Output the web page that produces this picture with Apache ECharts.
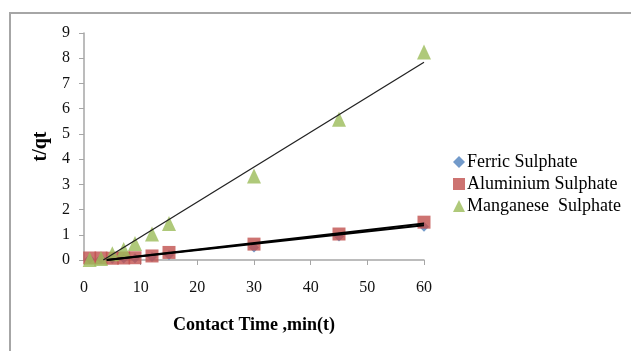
<!DOCTYPE html>
<html>
<head>
<meta charset="utf-8">
<script src="https://cdn.jsdelivr.net/npm/echarts@6/dist/echarts.min.js"></script>
<style>html,body{margin:0;padding:0;background:#fff;}#c{width:631px;height:351px;}</style>
</head>
<body>
<div id="c"></div>
<script>
const contactTime = [1, 3, 5, 7, 9, 12, 15, 30, 45, 60];
const ferricSulphate = [0.04, 0.05, 0.05, 0.06, 0.07, 0.12, 0.2, 0.5, 0.93, 1.32];
const aluminiumSulphate = [0.08, 0.08, 0.07, 0.08, 0.09, 0.16, 0.3, 0.63, 1.03, 1.5];
const manganeseSulphate = [0.02, 0.06, 0.25, 0.42, 0.65, 1.03, 1.45, 3.33, 5.58, 8.25];
const ferricTrendT = [4, 60], ferricTrendY = [0, 1.38];
const aluminiumTrendT = [4, 60], aluminiumTrendY = [0, 1.45];
const manganeseTrendT = [3.4, 60], manganeseTrendY = [0, 7.84];
const seriesNames = ['Ferric Sulphate', 'Aluminium Sulphate', 'Manganese  Sulphate'];
const xTitle = 'Contact Time ,min(t)';
const yTitle = 't/qt';

const zip = (a, b) => a.map((v, i) => [v, b[i]]);
const FONT = 'Liberation Serif';
const chart = echarts.init(document.getElementById('c'), null, {renderer: 'canvas'});
chart.setOption({
  animation: false,
  backgroundColor: '#fff',
  graphic: [{
    type: 'polyline',
    shape: {points: [[10, 351], [10, 13], [631, 13]]},
    style: {stroke: '#a6a6a6', lineWidth: 2, fill: null},
    silent: true
  }],
  grid: {left: 84, right: 207, top: 33, bottom: 91},
  legend: {
    orient: 'vertical',
    left: 448, top: 148,
    itemWidth: 12, itemHeight: 12, itemGap: 4,
    data: seriesNames,
    textStyle: {fontFamily: FONT, fontSize: 18, color: '#000', padding: [0, 0, 0, -3]}
  },
  xAxis: {
    type: 'value', min: 0, max: 60, interval: 10,
    name: xTitle, nameLocation: 'middle', nameGap: 56,
    nameTextStyle: {fontFamily: FONT, fontSize: 18, fontWeight: 'bold', color: '#000'},
    axisLine: {show: true, lineStyle: {color: '#a6a6a6', width: 1.5}},
    axisTick: {show: true, length: 5, lineStyle: {color: '#a6a6a6'}},
    splitLine: {show: false},
    axisLabel: {fontFamily: FONT, fontSize: 16, color: '#111', margin: 20}
  },
  yAxis: {
    type: 'value', min: 0, max: 9, interval: 1,
    name: yTitle, nameLocation: 'middle', nameGap: 32,
    nameTextStyle: {fontFamily: FONT, fontSize: 20, fontWeight: 'bold', color: '#000'},
    axisLine: {show: true, lineStyle: {color: '#a6a6a6', width: 1.5}},
    axisTick: {show: true, length: 5, lineStyle: {color: '#a6a6a6'}},
    splitLine: {show: false},
    axisLabel: {fontFamily: FONT, fontSize: 16, color: '#111', margin: 14}
  },
  series: [
    {name: seriesNames[0], type: 'scatter', symbol: 'diamond', symbolSize: 10,
     itemStyle: {color: '#4F81BD'}, data: zip(contactTime, ferricSulphate), z: 2},
    {name: seriesNames[1], type: 'scatter', symbol: 'rect', symbolSize: 13,
     itemStyle: {color: '#C0504D'}, data: zip(contactTime, aluminiumSulphate), z: 3},
    {name: seriesNames[2], type: 'scatter', symbol: 'triangle', symbolSize: [14, 15],
     itemStyle: {color: '#9BBB59'}, data: zip(contactTime, manganeseSulphate), z: 4},
    {type: 'line', data: zip(ferricTrendT, ferricTrendY), symbol: 'none', silent: true,
     lineStyle: {color: '#000', width: 2}, z: 5},
    {type: 'line', data: zip(aluminiumTrendT, aluminiumTrendY), symbol: 'none', silent: true,
     lineStyle: {color: '#000', width: 2}, z: 5},
    {type: 'line', data: zip(manganeseTrendT, manganeseTrendY), symbol: 'none', silent: true,
     lineStyle: {color: '#222', width: 1.3}, z: 5}
  ]
});
</script>
</body>
</html>
